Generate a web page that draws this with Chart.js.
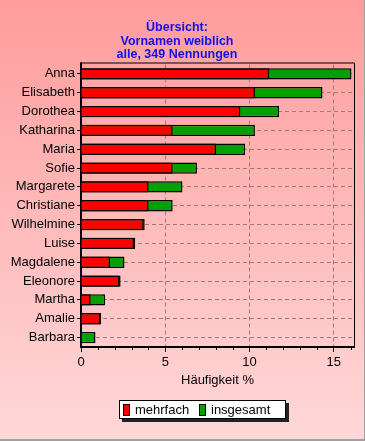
<!DOCTYPE html>
<html>
<head>
<meta charset="utf-8">
<script src="https://cdn.jsdelivr.net/npm/chart.js@4"></script>
<style>
  body { margin: 0; background: #fff; }
  #wrap { position: relative; width: 365px; height: 441px; }
  #legend {
    position: absolute; left: 119px; top: 400px; width: 167px; height: 19px;
    background: #fff; border: 1px solid #000; box-shadow: 3px 3px 0 #222;
    font: 13px "Liberation Sans", Arial, sans-serif; color: #000;
    box-sizing: border-box;
  }
  #legend span { position: absolute; top: 1px; }
  #legend i { position: absolute; top: 3px; width: 5px; height: 10px; border: 1px solid #000; }
</style>
</head>
<body>
<div id="wrap">
  <canvas id="chart" width="365" height="441"></canvas>
  <div id="legend">
    <i style="left:3px;background:#ff0000"></i><span style="left:15px">mehrfach</span>
    <i style="left:79px;background:#00a000"></i><span style="left:91px">insgesamt</span>
  </div>
</div>
<script>
// Vornamen weiblich, Anteile in %
const names = ['Anna', 'Elisabeth', 'Dorothea', 'Katharina', 'Maria', 'Sofie', 'Margarete',
  'Christiane', 'Wilhelmine', 'Luise', 'Magdalene', 'Eleonore', 'Martha', 'Amalie', 'Barbara'];
const mehrfach = [11.17, 10.32, 9.46, 5.44, 8.02, 5.44, 4.01, 4.01, 3.72, 3.15, 1.72, 2.29, 0.57, 1.15, 0];
const insgesamt = [16.05, 14.33, 11.75, 10.32, 9.74, 6.88, 6.02, 5.44, 3.78, 3.22, 2.58, 2.35, 1.43, 1.2, 0.86];
const xTicks = [0, 5, 10, 15];

const gridColor = '#a07878';
const font = '"Liberation Sans", Arial, sans-serif';

// pink gradient background + frame
const background = {
  id: 'background',
  beforeDraw(chart) {
    const c = chart.ctx;
    const g = c.createLinearGradient(0, 0, 0, chart.height);
    g.addColorStop(0, '#ff9c9c');
    g.addColorStop(1, '#ffd8d8');
    c.save();
    c.fillStyle = g;
    c.fillRect(0, 0, chart.width, chart.height);
    c.fillStyle = '#a0a0a0';
    c.fillRect(chart.width - 1, 0, 1, chart.height);
    c.fillRect(0, chart.height - 2, chart.width, 2);
    c.restore();
  },
  afterDraw(chart) {
    const a = chart.chartArea;
    const c = chart.ctx;
    const x = chart.scales.x;
    const top = a.top - 2;
    c.save();
    c.strokeStyle = '#000';
    c.lineWidth = 1;
    c.beginPath();
    c.moveTo(a.left - 1, top + 0.5);
    c.lineTo(a.right + 0.5, top + 0.5);
    c.lineTo(a.right + 0.5, a.bottom);
    c.stroke();
    // left axis up to the frame
    c.fillStyle = '#000';
    c.fillRect(a.left - 1, top, 2, 3);
    // minor ticks every 1 %
    c.beginPath();
    for (let v = 1; v <= x.max; v++) {
      if (v % 5 === 0) continue;
      const px = Math.round(x.getPixelForValue(v)) + 0.5;
      c.moveTo(px, a.bottom);
      c.lineTo(px, a.bottom + 3);
    }
    c.stroke();
    c.restore();
  }
};

new Chart(document.getElementById('chart'), {
  type: 'bar',
  data: {
    labels: names,
    datasets: [
      { label: 'mehrfach', data: mehrfach, backgroundColor: '#ff0000', borderColor: '#000',
        borderWidth: 1.5, grouped: false, barPercentage: 0.6, categoryPercentage: 1 },
      { label: 'insgesamt', data: insgesamt, backgroundColor: '#00a000', borderColor: '#000',
        borderWidth: 1.5, grouped: false, barPercentage: 0.6, categoryPercentage: 1 }
    ]
  },
  options: {
    indexAxis: 'y',
    responsive: false,
    animation: false,
    layout: { padding: { left: 0, right: 11, top: 21, bottom: 0 } },
    plugins: {
      legend: { display: false },
      tooltip: { enabled: false },
      title: {
        display: true,
        text: ['Übersicht:', 'Vornamen weiblich', 'alle, 349 Nennungen'],
        color: '#1010ee',
        font: { family: font, size: 12.5, weight: 'bold', lineHeight: 1.08 },
        padding: { top: 0, bottom: 3 }
      }
    },
    scales: {
      x: {
        min: 0,
        max: 16.2,
        afterBuildTicks(scale) { scale.ticks = xTicks.map(v => ({ value: v })); },
        afterFit(scale) { scale.height = 94; },
        ticks: { color: '#000', font: { family: font, size: 13 }, padding: 3 },
        grid: { color: gridColor, tickColor: '#000', tickLength: 5, tickBorderDash: [2, 0], lineWidth: 1 },
        border: { color: '#000', width: 2, dash: [4, 3] },
        title: {
          display: true, text: 'Häufigkeit %', color: '#000',
          font: { family: font, size: 13 },
          padding: { top: 2, bottom: 53 }
        }
      },
      y: {
        afterFit(scale) { scale.width = 81; },
        ticks: { color: '#000', font: { family: font, size: 13 }, padding: 2 },
        grid: { color: gridColor, offset: false, tickColor: '#000', tickLength: 4, tickBorderDash: [2, 0] },
        border: { color: '#000', width: 2, dash: [4, 3] }
      }
    }
  },
  plugins: [background]
});
</script>
</body>
</html>
